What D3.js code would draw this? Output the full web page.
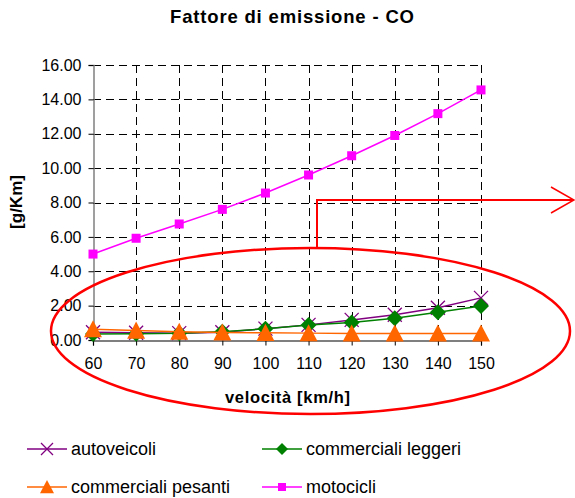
<!DOCTYPE html>
<html>
<head>
<meta charset="utf-8">
<script src="https://cdn.jsdelivr.net/npm/d3@7"></script>
<style>
  body { margin: 0; background: #fff; }
  svg { display: block; font-family: "Liberation Sans", Arial, sans-serif; }
</style>
</head>
<body>
<div id="chart"></div>
<script>
// velocità [km/h]
const categories = [60, 70, 80, 90, 100, 110, 120, 130, 140, 150];
const yTicks = [0, 2, 4, 6, 8, 10, 12, 14, 16];

// fattori di emissione CO [g/Km]
const autoveicoli = [0.45, 0.42, 0.40, 0.45, 0.66, 0.88, 1.17, 1.47, 1.88, 2.45];
const commercialiLeggeri = [0.35, 0.37, 0.39, 0.48, 0.65, 0.87, 1.02, 1.27, 1.62, 1.98];
const commercialiPesanti = [0.63, 0.55, 0.48, 0.44, 0.42, 0.40, 0.38, 0.38, 0.38, 0.38];
const motocicli = [5.0, 5.92, 6.75, 7.6, 8.55, 9.6, 10.72, 11.9, 13.17, 14.55];

const seriesNames = ['autoveicoli', 'commerciali leggeri', 'commerciali pesanti', 'motocicli'];

const series = [
    { name: seriesNames[0], values: autoveicoli, color: '#800080', marker: 'x' },
    { name: seriesNames[1], values: commercialiLeggeri, color: '#008000', marker: 'diamond' },
    { name: seriesNames[2], values: commercialiPesanti, color: '#FF6600', marker: 'triangle' },
    { name: seriesNames[3], values: motocicli, color: '#FF00FF', marker: 'square' }
];

const width = 575, height = 498;
const plot = { left: 93, right: 481, top: 65, bottom: 340 };

const svg = d3.select('#chart').append('svg')
    .attr('width', width)
    .attr('height', height);

const x = d3.scalePoint()
    .domain(categories)
    .range([plot.left, plot.right]);

const y = d3.scaleLinear()
    .domain([0, 16])
    .range([plot.bottom, plot.top]);

// gridlines (dashed)
const grid = svg.append('g')
    .attr('stroke', '#000')
    .attr('stroke-width', 1)
    .attr('stroke-dasharray', '8,5');

grid.selectAll('.hgrid')
    .data(yTicks.filter(d => d > 0))
    .enter()
    .append('line')
    .attr('x1', plot.left).attr('x2', plot.right)
    .attr('y1', d => Math.round(y(d)) + 0.5).attr('y2', d => Math.round(y(d)) + 0.5);

grid.selectAll('.vgrid')
    .data(categories.slice(1))
    .enter()
    .append('line')
    .attr('x1', d => Math.round(x(d)) + 0.5).attr('x2', d => Math.round(x(d)) + 0.5)
    .attr('y1', plot.top).attr('y2', plot.bottom);

// y axis
const yAxis = svg.append('g')
    .attr('transform', `translate(${plot.left + 0.5},0)`)
    .call(d3.axisLeft(y).tickValues(yTicks).tickFormat(d3.format('.2f')).tickSizeOuter(0).tickSize(5).tickPadding(7));
yAxis.select('.domain').attr('stroke', '#808080').attr('stroke-width', 1.5);
yAxis.selectAll('.tick line').attr('stroke', '#000');
yAxis.selectAll('.tick text')
    .attr('font-size', 16)
    .attr('fill', '#000')
    .attr('font-family', '"Liberation Sans", Arial, sans-serif');

// x axis
const xAxis = svg.append('g')
    .attr('transform', `translate(0,${plot.bottom + 0.5})`)
    .call(d3.axisBottom(x).tickSizeOuter(0).tickSize(5).tickPadding(12));
xAxis.select('.domain').attr('stroke', '#000').attr('stroke-width', 1.2);
xAxis.selectAll('.tick line').attr('stroke', '#000');
xAxis.selectAll('.tick text')
    .attr('font-size', 16)
    .attr('fill', '#000')
    .attr('font-family', '"Liberation Sans", Arial, sans-serif');

// marker shapes
function drawMarker(g, type, color, s) {
    if (type === 'x') {
        g.append('path')
            .attr('d', `M${-s},${-s}L${s},${s}M${-s},${s}L${s},${-s}`)
            .attr('stroke', color).attr('stroke-width', 1.3).attr('fill', 'none');
    } else if (type === 'diamond') {
        g.append('path')
            .attr('d', `M0,${-s}L${s},0L0,${s}L${-s},0Z`)
            .attr('fill', color);
    } else if (type === 'triangle') {
        g.append('path')
            .attr('d', `M0,${-s}L${s},${s * 0.9}L${-s},${s * 0.9}Z`)
            .attr('fill', color);
    } else if (type === 'square') {
        g.append('rect')
            .attr('x', -s).attr('y', -s)
            .attr('width', 2 * s).attr('height', 2 * s)
            .attr('fill', color);
    }
}

const markerSize = { x: 7, diamond: 8, triangle: 9, square: 4.5 };
const legendMarkerSize = { x: 6, diamond: 6, triangle: 7, square: 4 };

const line = d3.line()
    .x((d, i) => x(categories[i]))
    .y(d => y(d));

series.forEach(s => {
    const g = svg.append('g');
    g.append('path')
        .datum(s.values)
        .attr('d', line)
        .attr('fill', 'none')
        .attr('stroke', s.color)
        .attr('stroke-width', 1.5);

    s.values.forEach((v, i) => {
        const m = g.append('g')
            .attr('transform', `translate(${x(categories[i])},${y(v)})`);
        drawMarker(m, s.marker, s.color, markerSize[s.marker]);
    });
});

// titles
svg.append('text')
    .attr('x', 292).attr('y', 23)
    .attr('text-anchor', 'middle')
    .attr('font-size', 18.5)
    .attr('font-weight', 'bold')
    .attr('textLength', 244)
    .attr('lengthAdjust', 'spacing')
    .text('Fattore di emissione - CO');

svg.append('text')
    .attr('x', 287.5).attr('y', 403)
    .attr('text-anchor', 'middle')
    .attr('font-size', 16.5)
    .attr('font-weight', 'bold')
    .attr('textLength', 125)
    .attr('lengthAdjust', 'spacing')
    .text('velocità [km/h]');

svg.append('text')
    .attr('transform', 'translate(22,202) rotate(-90)')
    .attr('text-anchor', 'middle')
    .attr('font-size', 17)
    .attr('font-weight', 'bold')
    .text('[g/Km]');

// legend
const legendPos = [
    { x: 27, y: 449 },
    { x: 262, y: 449 },
    { x: 27, y: 487 },
    { x: 262, y: 487 }
];

series.forEach((s, i) => {
    const p = legendPos[i];
    const g = svg.append('g').attr('transform', `translate(${p.x},${p.y})`);
    g.append('line')
        .attr('x1', 0).attr('x2', 40)
        .attr('y1', 0).attr('y2', 0)
        .attr('stroke', s.color)
        .attr('stroke-width', 1.5);
    const m = g.append('g').attr('transform', 'translate(20,0)');
    drawMarker(m, s.marker, s.color, legendMarkerSize[s.marker]);
    g.append('text')
        .attr('x', 44).attr('y', 6)
        .attr('font-size', 18)
        .attr('fill', '#000')
        .text(s.name);
});

// red annotation: ellipse + arrow
const ann = svg.append('g')
    .attr('stroke', '#FF0000')
    .attr('fill', 'none')
    .attr('stroke-width', 2.5);

ann.append('ellipse')
    .attr('cx', 310.5).attr('cy', 331)
    .attr('rx', 259.5).attr('ry', 83);

ann.append('path')
    .attr('d', 'M317,248L317,200L573,200')
    .attr('stroke-width', 2);

ann.append('path')
    .attr('d', 'M551,187L574,200L551,213')
    .attr('stroke-width', 1.5);
</script>
</body>
</html>
